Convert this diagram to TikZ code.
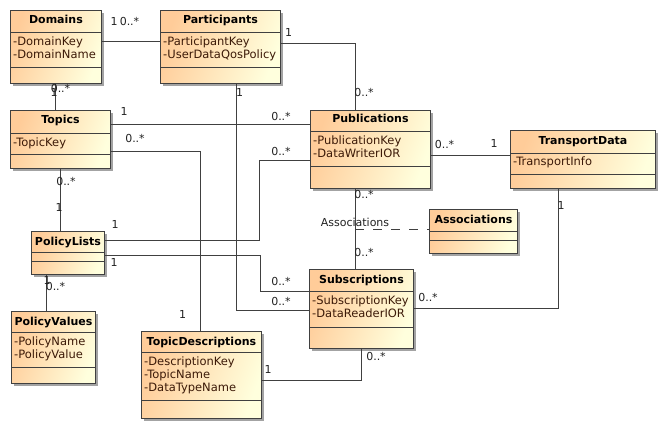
\documentclass[tikz,border=0pt]{standalone}
\usepackage{fontspec}
\setmainfont{DejaVu Sans}
\usetikzlibrary{shadows}
\definecolor{classOrange}{HTML}{FFCC99}
\definecolor{classCream}{HTML}{FFFFDD}
\definecolor{lineGray}{HTML}{404040}
\definecolor{shadowGray}{HTML}{A3A3A3}
\definecolor{attrBrown}{HTML}{3C1A08}
\definecolor{labelInk}{HTML}{222222}

\begin{document}
\begin{tikzpicture}[
    x=1pt, y=-1pt,
    classbox/.style={draw=lineGray, line width=0.9pt, anchor=north west, inner sep=0pt,
      left color=classOrange, right color=classCream, shading angle=70,
      drop shadow={shadow xshift=3pt, shadow yshift=-3pt, fill=shadowGray, opacity=1}},
    classname/.style={anchor=base, inner sep=0pt, font=\fontsize{11}{13}\selectfont\bfseries},
    classattr/.style={anchor=north west, inner sep=0pt, align=left, text=attrBrown, font=\fontsize{11.5}{13}\selectfont},
    classsep/.style={draw=lineGray, line width=0.9pt},
    assoc/.style={draw=lineGray, line width=0.9pt},
    assocclass/.style={draw=lineGray, line width=0.9pt, dash pattern=on 9pt off 9pt},
    mult/.style={inner sep=0pt, text=labelInk, font=\fontsize{11}{13}\selectfont}
  ]
    \path[use as bounding box, fill=white] (0,0) rectangle (665,428);

    % Classes, top row
    \node[classbox, minimum width=91, minimum height=73] (domains) at (10,10) {};
    \node[classname] (domains-name) at ([yshift=-14pt]domains.north) {Domains};
    \node[classattr] (domains-attr) at ([xshift=3pt, yshift=-27pt]domains.north west) {-DomainKey\\-DomainName};
    \draw[classsep] ([yshift=-22pt]domains.north west) -- ([yshift=-22pt]domains.north east);
    \draw[classsep] ([yshift=-57pt]domains.north west) -- ([yshift=-57pt]domains.north east);

    \node[classbox, minimum width=120, minimum height=73] (participants) at (160,10) {};
    \node[classname] (participants-name) at ([yshift=-14pt]participants.north) {Participants};
    \node[classattr] (participants-attr) at ([xshift=3pt, yshift=-27pt]participants.north west) {-ParticipantKey\\-UserDataQosPolicy};
    \draw[classsep] ([yshift=-22pt]participants.north west) -- ([yshift=-22pt]participants.north east);
    \draw[classsep] ([yshift=-57pt]participants.north west) -- ([yshift=-57pt]participants.north east);

    % Classes, middle
    \node[classbox, minimum width=100, minimum height=58] (topics) at (10,110) {};
    \node[classname] (topics-name) at ([yshift=-14pt]topics.north) {Topics};
    \node[classattr] (topics-attr) at ([xshift=3pt, yshift=-28pt]topics.north west) {-TopicKey};
    \draw[classsep] ([yshift=-23pt]topics.north west) -- ([yshift=-23pt]topics.north east);
    \draw[classsep] ([yshift=-44pt]topics.north west) -- ([yshift=-44pt]topics.north east);

    \node[classbox, minimum width=120, minimum height=78] (publications) at (310,110) {};
    \node[classname] (publications-name) at ([yshift=-13pt]publications.north) {Publications};
    \node[classattr] (publications-attr) at ([xshift=3pt, yshift=-26pt]publications.north west) {-PublicationKey\\-DataWriterIOR};
    \draw[classsep] ([yshift=-21pt]publications.north west) -- ([yshift=-21pt]publications.north east);
    \draw[classsep] ([yshift=-56pt]publications.north west) -- ([yshift=-56pt]publications.north east);

    \node[classbox, minimum width=145, minimum height=58] (transportdata) at (510,130) {};
    \node[classname] (transportdata-name) at ([yshift=-14pt]transportdata.north) {TransportData};
    \node[classattr] (transportdata-attr) at ([xshift=3pt, yshift=-27pt]transportdata.north west) {-TransportInfo};
    \draw[classsep] ([yshift=-23pt]transportdata.north west) -- ([yshift=-23pt]transportdata.north east);
    \draw[classsep] ([yshift=-44pt]transportdata.north west) -- ([yshift=-44pt]transportdata.north east);

    \node[classbox, minimum width=73, minimum height=43] (policylists) at (31,231) {};
    \node[classname] (policylists-name) at ([yshift=-14pt]policylists.north) {PolicyLists};
    \draw[classsep] ([yshift=-21pt]policylists.north west) -- ([yshift=-21pt]policylists.north east);
    \draw[classsep] ([yshift=-30pt]policylists.north west) -- ([yshift=-30pt]policylists.north east);

    \node[classbox, minimum width=88, minimum height=44] (associations) at (429,209) {};
    \node[classname] (associations-name) at ([yshift=-14pt]associations.north) {Associations};
    \draw[classsep] ([yshift=-22pt]associations.north west) -- ([yshift=-22pt]associations.north east);
    \draw[classsep] ([yshift=-31pt]associations.north west) -- ([yshift=-31pt]associations.north east);

    % Classes, bottom row
    \node[classbox, minimum width=104, minimum height=79] (subscriptions) at (309,269) {};
    \node[classname] (subscriptions-name) at ([yshift=-14pt]subscriptions.north) {Subscriptions};
    \node[classattr] (subscriptions-attr) at ([xshift=3pt, yshift=-27pt]subscriptions.north west) {-SubscriptionKey\\-DataReaderIOR};
    \draw[classsep] ([yshift=-22pt]subscriptions.north west) -- ([yshift=-22pt]subscriptions.north east);
    \draw[classsep] ([yshift=-58pt]subscriptions.north west) -- ([yshift=-58pt]subscriptions.north east);

    \node[classbox, minimum width=84, minimum height=72] (policyvalues) at (11,311) {};
    \node[classname] (policyvalues-name) at ([yshift=-14pt]policyvalues.north) {PolicyValues};
    \node[classattr] (policyvalues-attr) at ([xshift=3pt, yshift=-26pt]policyvalues.north west) {-PolicyName\\-PolicyValue};
    \draw[classsep] ([yshift=-21pt]policyvalues.north west) -- ([yshift=-21pt]policyvalues.north east);
    \draw[classsep] ([yshift=-56pt]policyvalues.north west) -- ([yshift=-56pt]policyvalues.north east);

    \node[classbox, minimum width=120, minimum height=87] (topicdescriptions) at (141,331) {};
    \node[classname] (topicdescriptions-name) at ([yshift=-14pt]topicdescriptions.north) {TopicDescriptions};
    \node[classattr] (topicdescriptions-attr) at ([xshift=3pt, yshift=-26pt]topicdescriptions.north west) {-DescriptionKey\\-TopicName\\-DataTypeName};
    \draw[classsep] ([yshift=-21pt]topicdescriptions.north west) -- ([yshift=-21pt]topicdescriptions.north east);
    \draw[classsep] ([yshift=-69pt]topicdescriptions.north west) -- ([yshift=-69pt]topicdescriptions.north east);

    % Associations between classes
    \draw[assoc] (domains.east |- 0,41) -- (participants.west |- 0,41)
      node[mult] at (114,21.5) {1} node[mult] at (129.5,21.5) {0..*};
    \draw[assoc] (domains.south -| 55,0) -- (topics.north -| 55,0)
      node[mult] at (60.5,88.5) {0..*} node[mult] at (54,92) {1};
    \draw[assoc] (participants.east |- 0,43) -| (publications.north -| 355,0)
      node[mult] at (288.5,32) {1} node[mult] at (364,92.5) {0..*};
    \draw[assoc] (participants.south -| 236,0) |- (subscriptions.west |- 0,310)
      node[mult] at (239.5,92) {1} node[mult] at (281,301.5) {0..*};
    \draw[assoc] (topics.east |- 0,124) -- (publications.west |- 0,124)
      node[mult] at (124,111.5) {1} node[mult] at (281,116.5) {0..*};
    \draw[assoc] (topics.east |- 0,151) -| (topicdescriptions.north -| 200,0)
      node[mult] at (135,138.5) {0..*} node[mult] at (182.5,314) {1};
    \draw[assoc] (topics.south -| 60,0) -- (policylists.north -| 60,0)
      node[mult] at (66,181.5) {0..*} node[mult] at (59,207) {1};
    \draw[assoc] (policylists.east |- 0,240) -- (259,240) |- (publications.west |- 0,160)
      node[mult] at (115,224) {1} node[mult] at (281,151.5) {0..*};
    \draw[assoc] (policylists.east |- 0,255) -- (260,255) |- (subscriptions.west |- 0,291)
      node[mult] at (114,262) {1} node[mult] at (281,281.5) {0..*};
    \draw[assoc] (policylists.south -| 46,0) -- (policyvalues.north -| 46,0)
      node[mult] at (47,280) {1} node[mult] at (55.5,286) {0..*};
    \draw[assoc] (publications.east |- 0,155) -- (transportdata.west |- 0,155)
      node[mult] at (444.5,144) {0..*} node[mult] at (494,143.5) {1};
    \draw[assoc] (publications.south -| 355,0) -- coordinate[midway] (assocpt) (subscriptions.north -| 355,0)
      node[mult] at (364,194) {0..*} node[mult] at (364,252.5) {0..*}
      node[mult] at (355,222) {Associations};
    \draw[assocclass] (assocpt) -- (associations.west |- assocpt);
    \draw[assoc] (subscriptions.east |- 0,308) -| (transportdata.south -| 558,0)
      node[mult] at (428,297) {0..*} node[mult] at (561,205) {1};
    \draw[assoc] (topicdescriptions.east |- 0,380) -| (subscriptions.south -| 361,0)
      node[mult] at (268,369) {1} node[mult] at (376,356) {0..*};
\end{tikzpicture}
\end{document}
